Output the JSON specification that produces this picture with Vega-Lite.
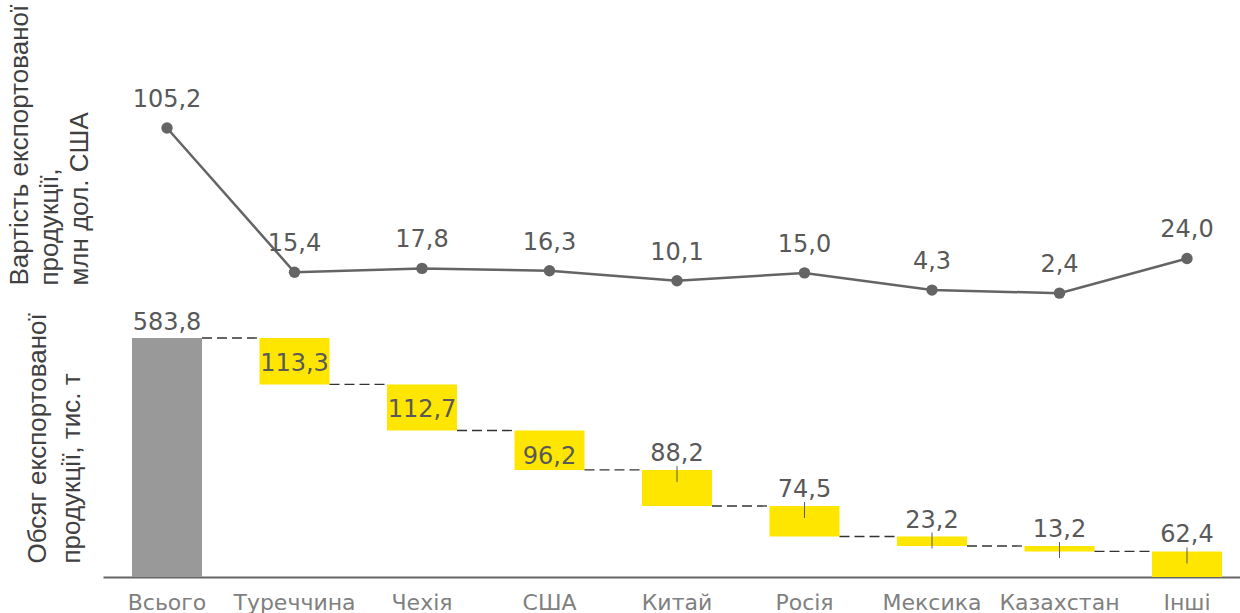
{
  "$schema": "https://vega.github.io/schema/vega-lite/v6.json",
  "width": 1137,
  "height": 577,
  "autosize": {"type": "none"},
  "padding": {"left": 103, "top": 0, "right": 0, "bottom": 36},
  "config": {
    "view": {"stroke": null},
    "font": "DejaVu Sans",
    "locale": {"number": {"decimal": ",", "thousands": " ", "grouping": [3], "currency": ["", ""]}}
  },
  "data": {
    "values": [
      {"cat": "Всього", "usd": 105.2, "amount": 583.8, "from": 0, "to": 583.8},
      {"cat": "Туреччина", "usd": 15.4, "amount": 113.3, "from": 583.8, "to": 470.5},
      {"cat": "Чехія", "usd": 17.8, "amount": 112.7, "from": 470.5, "to": 357.8},
      {"cat": "США", "usd": 16.3, "amount": 96.2, "from": 357.8, "to": 261.6},
      {"cat": "Китай", "usd": 10.1, "amount": 88.2, "from": 261.6, "to": 173.4},
      {"cat": "Росія", "usd": 15.0, "amount": 74.5, "from": 173.4, "to": 98.9},
      {"cat": "Мексика", "usd": 4.3, "amount": 23.2, "from": 98.9, "to": 75.7},
      {"cat": "Казахстан", "usd": 2.4, "amount": 13.2, "from": 75.7, "to": 62.5},
      {"cat": "Інші", "usd": 24.0, "amount": 62.4, "from": 62.4, "to": 0}
    ]
  },
  "encoding": {
    "x": {
      "field": "cat",
      "type": "nominal",
      "sort": null,
      "scale": {
        "domain": ["Всього", "Туреччина", "Чехія", "США", "Китай", "Росія", "Мексика", "Казахстан", "Інші"],
        "range": [0, 1148],
        "paddingInner": 0.451,
        "paddingOuter": 0.2275
      },
      "axis": {
        "title": null,
        "ticks": false,
        "grid": false,
        "domainColor": "#666666",
        "domainWidth": 2,
        "labelFont": "DejaVu Sans",
        "labelFontSize": 22,
        "labelColor": "#808080",
        "labelPadding": 32,
        "labelBaseline": "alphabetic",
        "labelAngle": 0
      }
    }
  },
  "layer": [
    {
      "encoding": {
        "y": {
          "field": "usd",
          "type": "quantitative",
          "scale": {"domain": [0, 105.2], "range": [297, 128], "nice": false, "zero": true},
          "axis": {
            "orient": "left",
            "title": ["Вартість експортованої", "продукції,", "млн дол. США"],
            "labels": false,
            "ticks": false,
            "domain": false,
            "grid": false,
            "titleFont": "Liberation Sans",
            "titleFontSize": 26,
            "titleFontWeight": "normal",
            "titleColor": "#404040",
            "titleAngle": -90,
            "titleAlign": "left",
            "titleBaseline": "alphabetic",
            "titleX": -76,
            "titleY": 285,
            "titleLineHeight": 30
          }
        }
      },
      "layer": [
        {"mark": {"type": "line", "color": "#646464", "strokeWidth": 2.5}},
        {"mark": {"type": "point", "filled": true, "size": 130, "color": "#646464", "opacity": 1}},
        {
          "mark": {"type": "text", "dy": -21, "baseline": "alphabetic", "fontSize": 24, "color": "#595959", "font": "DejaVu Sans"},
          "encoding": {"text": {"field": "usd", "type": "quantitative", "format": ".1f"}}
        }
      ]
    },
    {
      "layer": [
        {
          "mark": {"type": "bar"},
          "encoding": {
            "y": {
              "field": "from",
              "type": "quantitative",
              "scale": {"domain": [0, 583.8], "range": [577, 338], "nice": false, "zero": true},
              "axis": {
                "orient": "left",
                "title": ["Обсяг експортованої", "продукції, тис. т"],
                "labels": false,
                "ticks": false,
                "domain": false,
                "grid": false,
                "titleFont": "Liberation Sans",
                "titleFontSize": 26,
                "titleFontWeight": "normal",
                "titleColor": "#404040",
                "titleAngle": -90,
                "titleAlign": "left",
                "titleBaseline": "alphabetic",
                "titleX": -58,
                "titleY": 563,
                "titleLineHeight": 34
              }
            },
            "y2": {"field": "to"},
            "color": {"condition": {"test": "datum.cat == 'Всього'", "value": "#999999"}, "value": "#FFE600"}
          }
        },
        {
          "transform": [
            {"window": [{"op": "lead", "field": "cat", "as": "next"}]},
            {"filter": "datum.next != null"}
          ],
          "mark": {"type": "rule", "strokeDash": [10, 5], "color": "#333333", "strokeWidth": 1.3, "xOffset": 35, "x2Offset": -35},
          "encoding": {
            "x2": {"field": "next"},
            "y": {"field": "to", "type": "quantitative"}
          }
        },
        {
          "transform": [{"filter": "datum.cat != 'Всього' && datum.amount < 90"}],
          "mark": {"type": "rule", "color": "#595959", "strokeWidth": 1, "yOffset": -4, "y2Offset": 12},
          "encoding": {
            "y": {"field": "from", "type": "quantitative"},
            "y2": {"field": "from"}
          }
        },
        {
          "transform": [{"filter": "datum.cat == 'Всього'"}],
          "mark": {"type": "text", "dy": -8, "baseline": "alphabetic", "fontSize": 24, "color": "#595959", "font": "DejaVu Sans"},
          "encoding": {
            "y": {"field": "to", "type": "quantitative"},
            "text": {"field": "amount", "type": "quantitative", "format": ".1f"}
          }
        },
        {
          "transform": [{"filter": "datum.cat != 'Всього' && datum.amount > 90"}],
          "mark": {"type": "text", "dy": 33, "baseline": "alphabetic", "fontSize": 24, "color": "#595959", "font": "DejaVu Sans"},
          "encoding": {
            "y": {"field": "from", "type": "quantitative"},
            "text": {"field": "amount", "type": "quantitative", "format": ".1f"}
          }
        },
        {
          "transform": [{"filter": "datum.cat != 'Всього' && datum.amount < 90"}],
          "mark": {"type": "text", "dy": -9, "baseline": "alphabetic", "fontSize": 24, "color": "#595959", "font": "DejaVu Sans"},
          "encoding": {
            "y": {"field": "from", "type": "quantitative"},
            "text": {"field": "amount", "type": "quantitative", "format": ".1f"}
          }
        }
      ]
    }
  ],
  "resolve": {"scale": {"y": "independent"}}
}
